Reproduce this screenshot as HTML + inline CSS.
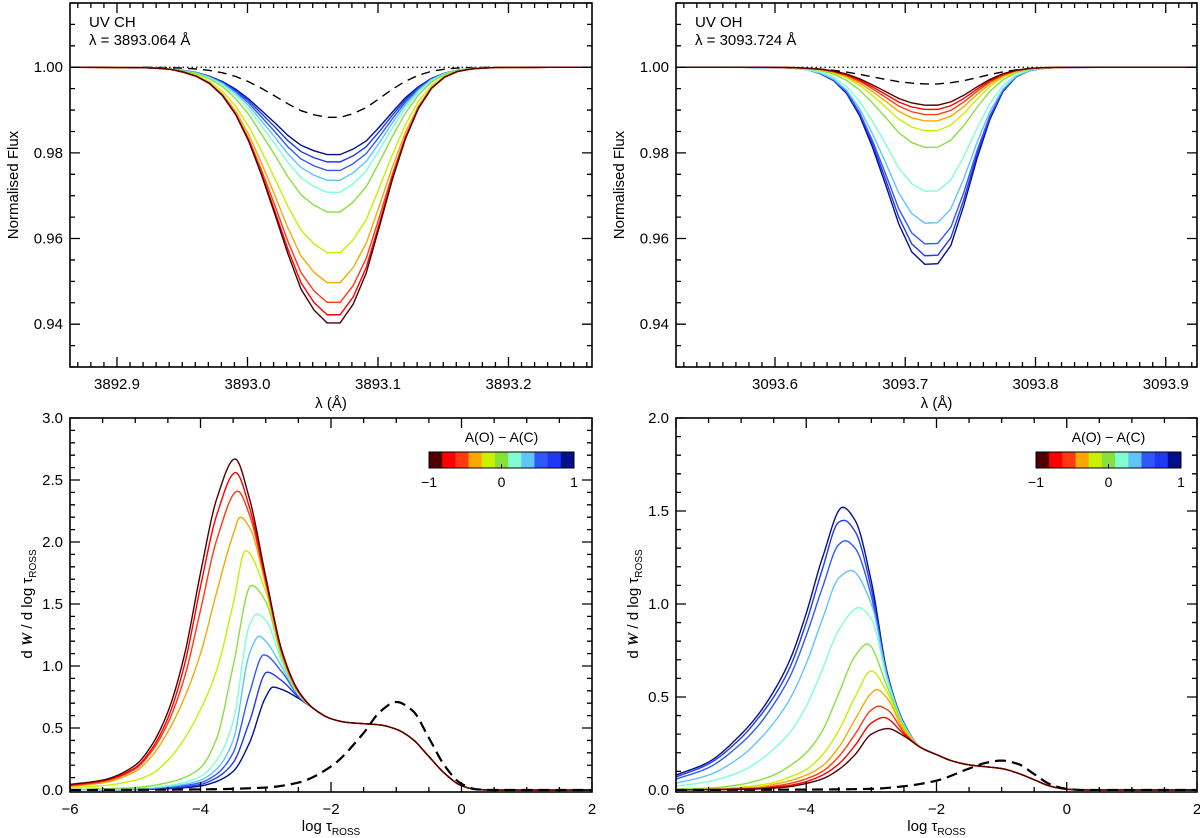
<!DOCTYPE html>
<html><head><meta charset="utf-8"><style>
html,body{margin:0;padding:0;background:#fff;}
svg{display:block;font-family:"Liberation Sans",Helvetica,Arial,sans-serif;}
</style></head><body>
<svg id="fig" width="1200" height="838" viewBox="0 0 1200 838" xmlns="http://www.w3.org/2000/svg">
</svg>
<script>
// ---------- DATA ----------
const COLORS = ['#500000','#ff0000','#ff3a10','#f8a800','#c8f000','#88e040','#80ffd0','#60c4ff','#3058ff','#2038f0','#00108c'];
// top: minimum flux per series (A(O)-A(C) = -1 ... +1)
const CH_MIN = [0.9403,0.9422,0.9451,0.9497,0.9567,0.9662,0.9708,0.9736,0.9759,0.9779,0.9796];
const CH_WIDTH = [1.0,1.01,1.02,1.03,1.04,1.05,1.06,1.07,1.08,1.09,1.1];
const CH_DASH_MIN = 0.9883;
const OH_MIN = [0.9911,0.9901,0.9889,0.9874,0.9851,0.9812,0.9709,0.9634,0.9585,0.9557,0.9537];
const OH_WIDTH = [0.86,0.86,0.85,0.85,0.84,0.84,0.83,0.82,0.81,0.8,0.8];
const OH_DASH_MIN = 0.9961;
const SHAPE_OFF = [-0.2,-0.14,-0.12,-0.1,-0.09,-0.08,-0.07,-0.06,-0.05,-0.04,-0.03,-0.02,-0.005,0.005,0.02,0.03,0.04,0.05,0.06,0.07,0.08,0.09,0.1,0.12,0.2];
const SHAPE_F = [0,0.002,0.01,0.044,0.082,0.14,0.23,0.35,0.5,0.65,0.81,0.925,1,1,0.89,0.72,0.53,0.35,0.21,0.11,0.053,0.023,0.009,0.001,0];
// bottom: contribution functions
const GRID_X = [-6,-5.5,-5,-4.75,-4.5,-4.25,-4,-3.75,-3.5,-3.25,-3,-2.75,-2.5];
const CH_CF = [
[0.045,0.08,0.2,0.36,0.63,1.08,1.75,2.35,2.66,2.35,1.72,1.12,0.80],
[0.04,0.075,0.18,0.33,0.58,1.0,1.64,2.22,2.55,2.28,1.70,1.11,0.80],
[0.035,0.068,0.17,0.31,0.54,0.9,1.45,2.02,2.38,2.22,1.68,1.10,0.79],
[0.03,0.058,0.15,0.27,0.47,0.74,1.10,1.60,2.06,2.12,1.65,1.09,0.79],
[0.02,0.035,0.08,0.13,0.24,0.41,0.65,0.97,1.50,1.92,1.60,1.08,0.78],
[0.005,0.01,0.02,0.035,0.06,0.1,0.18,0.42,1.0,1.64,1.52,1.06,0.78],
[0.003,0.006,0.012,0.02,0.035,0.06,0.11,0.24,0.55,1.33,1.37,1.03,0.77],
[0.002,0.005,0.01,0.016,0.028,0.045,0.08,0.17,0.40,1.10,1.20,0.99,0.77],
[0.002,0.004,0.008,0.012,0.02,0.035,0.06,0.13,0.30,0.78,1.08,0.95,0.76],
[0.001,0.003,0.006,0.01,0.015,0.025,0.045,0.1,0.22,0.55,0.94,0.88,0.75],
[0.001,0.002,0.004,0.006,0.01,0.018,0.032,0.07,0.15,0.38,0.75,0.81,0.74]];
const CH_PEAK_X = [-3.47,-3.46,-3.43,-3.39,-3.31,-3.22,-3.14,-3.10,-3.03,-2.98,-2.89];
const CH_PEAK_Y = [2.67,2.56,2.41,2.20,1.93,1.65,1.42,1.24,1.09,0.95,0.83];
const TAIL_X = [-2.25,-2,-1.75,-1.5,-1.25,-1,-0.75,-0.5,-0.25,0,0.25,0.5,1,2];
const CH_TAIL = [0.65,0.575,0.545,0.535,0.525,0.49,0.41,0.27,0.13,0.035,0.003,0,0,0];
const OH_CF = [
[0,0.001,0.003,0.005,0.01,0.018,0.035,0.06,0.11,0.19,0.30,0.33,0.29],
[0,0.002,0.005,0.008,0.015,0.025,0.045,0.08,0.14,0.24,0.36,0.39,0.30],
[0.001,0.002,0.007,0.01,0.02,0.035,0.06,0.1,0.18,0.3,0.43,0.43,0.31],
[0.001,0.003,0.01,0.015,0.03,0.05,0.08,0.13,0.23,0.38,0.52,0.49,0.32],
[0.002,0.005,0.015,0.025,0.04,0.07,0.11,0.19,0.32,0.50,0.64,0.52,0.33],
[0.005,0.01,0.03,0.05,0.08,0.13,0.2,0.32,0.52,0.72,0.78,0.55,0.34],
[0.02,0.045,0.1,0.15,0.22,0.31,0.45,0.65,0.86,0.97,0.92,0.58,0.35],
[0.036,0.08,0.18,0.26,0.36,0.49,0.68,0.92,1.14,1.17,1.0,0.6,0.35],
[0.058,0.12,0.25,0.34,0.46,0.61,0.83,1.09,1.32,1.30,1.04,0.60,0.36],
[0.07,0.14,0.28,0.38,0.50,0.66,0.90,1.19,1.44,1.39,1.08,0.61,0.36],
[0.08,0.15,0.30,0.40,0.53,0.70,0.95,1.25,1.51,1.45,1.12,0.62,0.36]];
const OH_PEAK_X = [-2.75,-2.81,-2.89,-2.92,-3.0,-3.06,-3.19,-3.31,-3.40,-3.42,-3.44];
const OH_PEAK_Y = [0.33,0.39,0.45,0.54,0.64,0.785,0.98,1.18,1.34,1.45,1.52];
const OH_TAIL = [0.23,0.19,0.155,0.135,0.125,0.115,0.09,0.055,0.02,0.004,0,0,0,0];
const DASH_X = [-6,-4,-3,-2.5,-2,-1.5,-1.25,-1,-0.75,-0.5,-0.25,0,0.25,0.5,2];
const CH_DASH_CF = [0,0.005,0.02,0.06,0.19,0.46,0.63,0.71,0.64,0.42,0.19,0.05,0.005,0,0];
const OH_DASH_CF = [0,0.002,0.006,0.02,0.05,0.115,0.145,0.158,0.14,0.085,0.03,0.006,0,0,0];

// ---------- HELPERS ----------
const NS='http://www.w3.org/2000/svg';
const svg=document.getElementById('fig');
function mk(tag,attrs,parent){const e=document.createElementNS(NS,tag);for(const k in attrs)e.setAttribute(k,attrs[k]);(parent||svg).appendChild(e);return e;}
function lin(xs,ys,x){if(x<=xs[0])return ys[0];for(let i=1;i<xs.length;i++){if(x<=xs[i]){const t=(x-xs[i-1])/(xs[i]-xs[i-1]);return ys[i-1]+t*(ys[i]-ys[i-1]);}}return ys[ys.length-1];}
function axes(p){return {sx:v=>p.x0+(v-p.xd[0])/(p.xd[1]-p.xd[0])*(p.x1-p.x0), sy:v=>p.y1-(v-p.yd[0])/(p.yd[1]-p.yd[0])*(p.y1-p.y0)};}
function monoPath(xs,ys,A,step){
  const n=xs.length,d=[],m=new Array(n);
  for(let i=0;i<n-1;i++)d.push((ys[i+1]-ys[i])/(xs[i+1]-xs[i]));
  m[0]=d[0];m[n-1]=d[n-2];
  for(let i=1;i<n-1;i++){if(d[i-1]*d[i]<=0)m[i]=0;else{const h0=xs[i]-xs[i-1],h1=xs[i+1]-xs[i];const w1=2*h1+h0,w2=h1+2*h0;m[i]=(w1+w2)/(w1/d[i-1]+w2/d[i]);}}
  let pts=[];
  for(let i=0;i<n-1;i++){const h=xs[i+1]-xs[i];const ns=Math.max(1,Math.ceil(h/step));
    for(let s=(i===0?0:1);s<=ns;s++){const t=s/ns;const t2=t*t,t3=t2*t;
      const y=(2*t3-3*t2+1)*ys[i]+(t3-2*t2+t)*h*m[i]+(-2*t3+3*t2)*ys[i+1]+(t3-t2)*h*m[i+1];
      pts.push([A.sx(xs[i]+t*h),A.sy(y)]);}}
  return 'M'+pts.map(q=>q[0].toFixed(2)+','+q[1].toFixed(2)).join('L');
}

function frame(p,g,xMajor,xMinor,yMajor,yMinor,xfmt,yfmt){
  const A=axes(p);
  let d='';
  const eps=1e-9;
  for(let v=Math.ceil(p.xd[0]/xMinor-eps)*xMinor; v<=p.xd[1]+eps; v+=xMinor){const x=A.sx(v);const maj=Math.abs(v/xMajor-Math.round(v/xMajor))<1e-6;const L=maj?10:5;d+=`M${x},${p.y1}v${-L}M${x},${p.y0}v${L}`;}
  for(let v=Math.ceil(p.yd[0]/yMinor-eps)*yMinor; v<=p.yd[1]+eps; v+=yMinor){const y=A.sy(v);const maj=Math.abs(v/yMajor-Math.round(v/yMajor))<1e-6;const L=maj?10:5;d+=`M${p.x0},${y}h${L}M${p.x1},${y}h${-L}`;}
  const t=mk('path',{d:d,stroke:'#000','stroke-width':1.3,fill:'none'},g);
  
  
  const gx=mk('g',{},g);
  
  
  for(let v=Math.ceil(p.xd[0]/xMajor-eps)*xMajor; v<=p.xd[1]+eps; v+=xMajor){const tx=mk('text',{x:A.sx(v),y:p.y1+22,'text-anchor':'middle','font-size':15},gx);tx.textContent=xfmt(v);}
  const gy=mk('g',{},g);
  
  
  for(let v=Math.ceil(p.yd[0]/yMajor-eps)*yMajor; v<=p.yd[1]+eps; v+=yMajor){const ty=mk('text',{x:p.x0-7,y:A.sy(v)+5,'text-anchor':'end','font-size':15},gy);ty.textContent=yfmt(v);}
  const r=mk('rect',{x:p.x0,y:p.y0,width:p.x1-p.x0,height:p.y1-p.y0,fill:'none',stroke:'#000','stroke-width':1.6},g);
  
  
  return A;
}
const minus=v=>(v<0?'\u2212':'')+Math.abs(Math.round(v));

// ---------- TOP PANELS ----------
function topPanel(p,center,mins,widths,dashMin,name,label1,label2){
  const g=mk('g',{});
  
  
  const clipId=name+'-clip';
  const cp=mk('clipPath',{id:clipId},g);mk('rect',{x:p.x0,y:p.y0,width:p.x1-p.x0,height:p.y1-p.y0},cp);
  const A=axes(p);
  const gl=mk('g',{'clip-path':`url(#${clipId})`},g);
  const dot=mk('line',{x1:p.x0,x2:p.x1,y1:A.sy(1),y2:A.sy(1),stroke:'#000','stroke-width':1.2,'stroke-dasharray':'1.5,3'},gl);
  
  
  function profile(minF,w){const pts=[];for(let k=-22;k<=21;k++){const lam=center+0.005+k*0.01;const f=lin(SHAPE_OFF,SHAPE_F,(lam-center)/w);pts.push([A.sx(lam),A.sy(1-(1-minF)*f)]);}
    return 'M'+pts.map(q=>q[0].toFixed(2)+','+q[1].toFixed(2)).join('L');}
  const dl=mk('path',{d:profile(dashMin,1.0),stroke:'#000','stroke-width':1.4,fill:'none','stroke-dasharray':'9,6'},gl);
  
  
  for(let i=mins.length-1;i>=0;i--){
    const l=mk('path',{d:profile(mins[i],widths[i]),stroke:COLORS[i],'stroke-width':1.4,fill:'none'},gl);
    
    
  }
  frame(p,g,0.1,0.01,0.02,0.005,v=>v.toFixed(1),v=>v.toFixed(2));
  const t1=mk('text',{x:p.x0+19,y:27,'font-size':15},g);t1.textContent=label1;
  
  
  const t2=mk('text',{x:p.x0+19,y:45,'font-size':15},g);t2.textContent=label2;
  
  
  const xt=mk('text',{x:(p.x0+p.x1)/2,y:408,'text-anchor':'middle','font-size':15},g);xt.textContent='\u03bb (\u00c5)';
  
  
  const yt=mk('text',{x:0,y:0,'text-anchor':'middle','font-size':15,transform:`translate(${p.x0-52},185) rotate(-90)`},g);yt.textContent='Normalised Flux';
  
  
}
topPanel({x0:70,x1:592,y0:3,y1:367,xd:[3892.864,3893.264],yd:[0.93,1.015]},3893.066,CH_MIN,CH_WIDTH,CH_DASH_MIN,'uv-ch-profile-panel','UV CH','\u03bb = 3893.064 \u00c5');
topPanel({x0:676,x1:1197,y0:3,y1:367,xd:[3093.524,3093.924],yd:[0.93,1.015]},3093.72,OH_MIN,OH_WIDTH,OH_DASH_MIN,'uv-oh-profile-panel','UV OH','\u03bb = 3093.724 \u00c5');

// ---------- BOTTOM PANELS ----------
function bottomPanel(p,cf,px,py,tail,dash,name,cbx){
  const g=mk('g',{});
  
  
  const clipId=name+'-clip';
  const cp=mk('clipPath',{id:clipId},g);mk('rect',{x:p.x0,y:p.y0,width:p.x1-p.x0,height:p.y1-p.y0},cp);
  const A=axes(p);
  const gl=mk('g',{'clip-path':`url(#${clipId})`},g);
  for(let i=cf.length-1;i>=0;i--){
    let pts=[];
    for(let k=0;k<GRID_X.length;k++){if(Math.abs(GRID_X[k]-px[i])>=0.075)pts.push([GRID_X[k],cf[i][k]]);}
    pts.push([px[i],py[i]]);
    for(let k=0;k<TAIL_X.length;k++)pts.push([TAIL_X[k],tail[k]]);
    pts.sort((a,b)=>a[0]-b[0]);
    const l=mk('path',{d:monoPath(pts.map(q=>q[0]),pts.map(q=>q[1]),A,0.02),stroke:COLORS[i],'stroke-width':1.4,fill:'none'},gl);
    
    
  }
  const dl=mk('path',{d:monoPath(DASH_X,dash,A,0.02),stroke:'#000','stroke-width':2.2,fill:'none','stroke-dasharray':'11,6'},gl);
  
  
  frame(p,g,2,0.5,0.5,0.1,minus,v=>v.toFixed(1));
  const xt=mk('text',{x:(p.x0+p.x1)/2,y:831,'text-anchor':'middle','font-size':15},g);
  xt.innerHTML='log \u03c4<tspan font-size="10" dy="4">ROSS</tspan>';
  
  
  const yt=mk('text',{x:0,y:0,'text-anchor':'middle','font-size':15,transform:`translate(${p.x0-38},604) rotate(-90)`},g);
  yt.innerHTML='d <tspan font-family="Liberation Serif, serif" font-weight="bold" font-style="italic">W</tspan> / d log \u03c4<tspan font-size="10" dy="4">ROSS</tspan>';
  
  
  const cb=mk('g',{},g);
  
  
  const w=145/COLORS.length;
  for(let i=0;i<COLORS.length;i++){const r=mk('rect',{x:cbx+i*w,y:452,width:w+0.3,height:16,fill:COLORS[i]},cb);
    
    }
  mk('rect',{x:cbx,y:452,width:145,height:16,fill:'none',stroke:'#000','stroke-width':1},cb);
  mk('line',{x1:cbx+72.5,x2:cbx+72.5,y1:468,y2:464,stroke:'#000','stroke-width':1},cb);
  const ct=mk('text',{x:cbx+72.5,y:442,'text-anchor':'middle','font-size':14},cb);ct.textContent='A(O) \u2212 A(C)';
  [['\u22121',0],['0',72.5],['1',145]].forEach(a=>{const t=mk('text',{x:cbx+a[1],y:487,'text-anchor':'middle','font-size':14},cb);t.textContent=a[0];});
}
bottomPanel({x0:70,x1:592,y0:418,y1:792,xd:[-6,2],yd:[-0.016,3]},CH_CF,CH_PEAK_X,CH_PEAK_Y,CH_TAIL,CH_DASH_CF,'ch-contribution-panel',429);
bottomPanel({x0:676,x1:1197,y0:418,y1:792,xd:[-6,2],yd:[-0.011,2]},OH_CF,OH_PEAK_X,OH_PEAK_Y,OH_TAIL,OH_DASH_CF,'oh-contribution-panel',1036);
</script>
</body></html>
